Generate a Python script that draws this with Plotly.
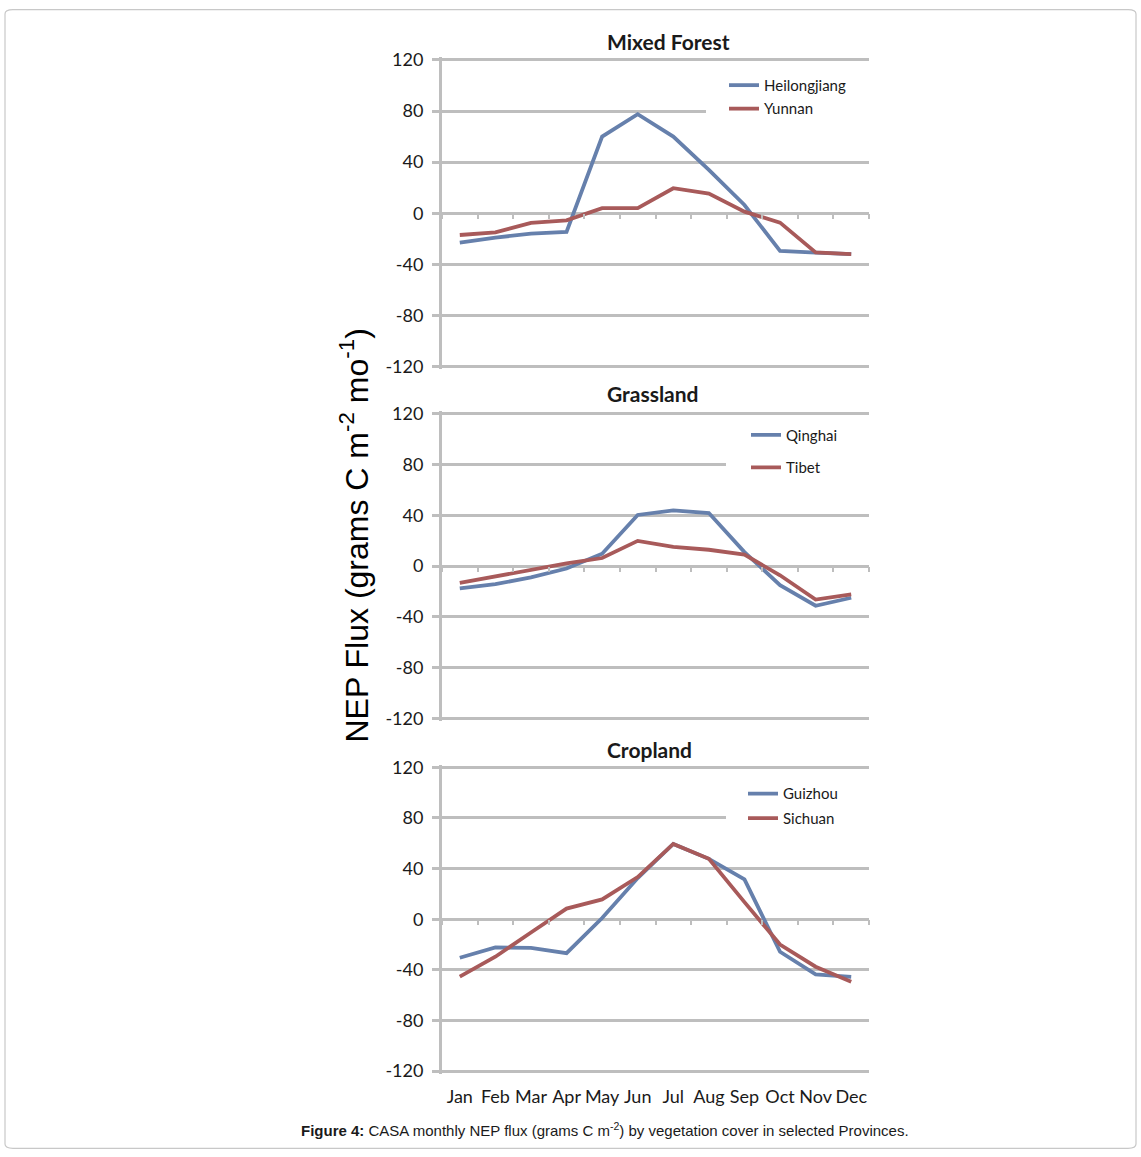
import plotly.graph_objects as go

# ---------------- data ----------------
months = ["Jan", "Feb", "Mar", "Apr", "May", "Jun", "Jul", "Aug", "Sep", "Oct", "Nov", "Dec"]
y_ticks = [-120, -80, -40, 0, 40, 80, 120]

panel_titles = ["Mixed Forest", "Grassland", "Cropland"]
series_names = [["Heilongjiang", "Yunnan"], ["Qinghai", "Tibet"], ["Guizhou", "Sichuan"]]

heilongjiang = [-23, -19, -16, -14.5, 60, 77.5, 60, 34, 6.5, -29.5, -30.8, -32]
yunnan = [-17, -15, -7.5, -5.5, 4, 4, 19.6, 15.4, 1.3, -7.3, -30.6, -31.9]
qinghai = [-17.7, -14.3, -9, -2, 9.7, 40.2, 43.8, 41.7, 11, -15.1, -31.3, -25]
tibet = [-13.3, -8.1, -3, 2, 6.3, 19.8, 15.1, 12.8, 8.9, -7.3, -26.4, -22.4]
guizhou = [-30.4, -22.3, -22.6, -26.8, 1, 32.5, 59.5, 47.7, 31.5, -25.7, -43.5, -45.6]
sichuan = [-45.4, -29.6, -10.5, 8.4, 15.7, 33.3, 59.5, 47.7, 13.5, -20, -37.5, -49.3]

series_values = [[heilongjiang, yunnan], [qinghai, tibet], [guizhou, sichuan]]

# ---------------- style / layout constants ----------------
W, H = 1141, 1157
# observed vertical mapping of the viewer: shown_y = V_OFF + V_SCALE * figure_y
V_OFF, V_SCALE = 8.07, 0.98605
BLUE = "#6680AC"
RED = "#A85A5A"
GRID = "#BEBEBE"
TXT = "#1a1a1a"
CAL = "Lato, Carlito, Calibri, sans-serif"
ARIAL = "Liberation Sans, Arial, sans-serif"

X_LEFT, X_RIGHT = 442, 869
# pixel rows of +120 and -120 for each panel (target picture coordinates)
panel_px = [(59, 366), (413, 718), (767, 1071)]
title_px = [(668, 41), (653, 393), (649, 749)]
mask_left_px = [706, 726, 726]
legend_px = [(724, 68), (746, 418), (743, 777)]
legend_gap = [1, 10, 2]
RMAX = 122


def fx(x):
    return x / W


def fy(y):
    yd = (y - V_OFF) / V_SCALE
    yd = min(max(yd, 0.7), H - 0.7)
    return 1 - yd / H


fig = go.Figure()
layout = dict(
    width=W, height=H, margin=dict(l=0, r=0, t=0, b=0), autosize=False,
    paper_bgcolor="white", plot_bgcolor="white", showlegend=True,
    annotations=[], shapes=[],
)

for i in range(3):
    n = i + 1
    sfx = "" if n == 1 else str(n)
    top, bot = panel_px[i]
    ppu = (bot - top) / 240.0
    dom_top = top - (RMAX - 120) * ppu
    dom_bot = bot + (RMAX - 120) * ppu
    zero_px = (top + bot) / 2.0
    leg = "legend" if n == 1 else "legend%d" % n

    for k in range(2):
        xa = "x%s" % sfx
        if n == 3 and k == 1:
            xa = "x4"
        fig.add_trace(go.Scatter(
            x=months, y=series_values[i][k], name=series_names[i][k],
            mode="lines", line=dict(color=[BLUE, RED][k], width=3.8),
            xaxis=xa, yaxis="y%s" % sfx, legend=leg,
            legendgroup="g%d%d" % (n, k), showlegend=True,
        ))

    layout["yaxis" + sfx] = dict(
        domain=[fy(dom_bot), fy(dom_top)], range=[-RMAX, RMAX],
        tickmode="array", tickvals=y_ticks, ticktext=[str(v) for v in y_ticks],
        showgrid=True, gridcolor=GRID, gridwidth=3, zeroline=False,
        showline=True, linecolor=GRID, linewidth=3,
        ticks="outside", ticklen=7, tickwidth=3, tickcolor=GRID,
        tickfont=dict(family=CAL, size=18, color=TXT),
        ticklabelstandoff=5,
        anchor="x" + sfx, fixedrange=True,
    )
    tick_axis = dict(
        domain=[fx(X_LEFT), fx(X_RIGHT)], type="category", range=[-0.5, 11.5],
        categoryorder="array", categoryarray=months,
        showgrid=False, zeroline=False, showline=False,
        ticks="outside", tickson="boundaries", ticklen=5, tickwidth=2,
        tickcolor=GRID, showticklabels=False,
        anchor="free", position=fy(zero_px), fixedrange=True,
    )
    if n < 3:
        layout["xaxis" + sfx] = tick_axis
    else:
        layout["xaxis3"] = dict(
            domain=[fx(X_LEFT), fx(X_RIGHT)], type="category", range=[-0.5, 11.5],
            categoryorder="array", categoryarray=months,
            showgrid=False, zeroline=False, showline=False, ticks="",
            showticklabels=True, tickfont=dict(family=CAL, size=18, color=TXT),
            ticklabelstandoff=10,
            anchor="y3", fixedrange=True,
        )
        ta = dict(tick_axis)
        ta["overlaying"] = "x3"
        layout["xaxis4"] = ta

    # white mask above the gridlines, below the traces (hides part of the 80 gridline)
    frac = (mask_left_px[i] - X_LEFT) / (X_RIGHT - X_LEFT)
    layout["shapes"].append(dict(
        type="rect", xref="x" + sfx, yref="y" + sfx,
        x0=-0.5 + 12 * frac, x1=11.5,
        y0=62, y1=100, fillcolor="white", line=dict(width=0), layer="between",
    ))

    lx, ly = legend_px[i]
    layout[leg] = dict(
        x=fx(lx), y=fy(ly), xanchor="left", yanchor="top", xref="paper", yref="paper",
        bgcolor="rgba(0,0,0,0)", borderwidth=0,
        font=dict(family=CAL, size=15, color=TXT),
        traceorder="grouped", tracegroupgap=legend_gap[i], itemwidth=30,
    )

    tx, ty = title_px[i]
    layout["annotations"].append(dict(
        text="<b>%s</b>" % panel_titles[i], x=fx(tx), y=fy(ty), xref="paper", yref="paper",
        xanchor="center", yanchor="middle", showarrow=False,
        font=dict(family=CAL, size=21, color=TXT),
    ))

# y-axis title
layout["annotations"].append(dict(
    text="NEP Flux (grams C m<sup>-2</sup> mo<sup>-1</sup>)",
    x=fx(354), y=fy(535), xref="paper", yref="paper", textangle=-90,
    xanchor="center", yanchor="middle", showarrow=False,
    font=dict(family=ARIAL, size=32, color="#000000"),
))
# caption
layout["annotations"].append(dict(
    text="<b>Figure 4:</b> CASA monthly NEP flux (grams C m<sup>-2</sup>) by vegetation cover in selected Provinces.",
    x=fx(605), y=fy(1129), xref="paper", yref="paper",
    xanchor="center", yanchor="middle", showarrow=False,
    font=dict(family=ARIAL, size=15, color="#1a1a1a"),
))

# rounded outer border
x0, y0, x1, y1, r = 5, 5, 1136, 1152, 8
path = ("M {a},{b} L {c},{b} Q {d},{b} {d},{e} L {d},{f} Q {d},{g} {c},{g} "
        "L {a},{g} Q {h},{g} {h},{f} L {h},{e} Q {h},{b} {a},{b} Z").format(
    a=fx(x0 + r), b=fy(y0), c=fx(x1 - r), d=fx(x1), e=fy(y0 + r), f=fy(y1 - r),
    g=fy(y1), h=fx(x0))
layout["shapes"].append(dict(type="path", xref="paper", yref="paper", path=path,
                             line=dict(color="#C8C8C8", width=1.2), layer="above"))

fig.update_layout(**layout)
reset_css = ("var s='margin:0;padding:0;overflow:hidden;';"
             "document.documentElement.style.cssText=s;document.body.style.cssText=s;"
             "window.scrollTo(0,0);")
fig.write_html("out.html", config={"displayModeBar": False, "staticPlot": True},
               post_script=reset_css)
